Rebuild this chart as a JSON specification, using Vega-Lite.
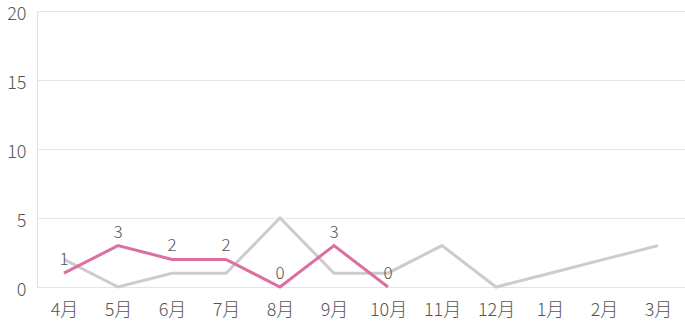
{
  "$schema": "https://vega.github.io/schema/vega-lite/v6.json",
  "width": 648,
  "height": 276,
  "autosize": {"type": "none"},
  "padding": {"left": 37, "top": 11, "right": 0, "bottom": 43},
  "config": {"view": {"stroke": null}, "font": "Noto Sans CJK JP"},
  "data": {"values": [
    {"month": "4月", "series": "前年", "value": 2},
    {"month": "5月", "series": "前年", "value": 0},
    {"month": "6月", "series": "前年", "value": 1},
    {"month": "7月", "series": "前年", "value": 1},
    {"month": "8月", "series": "前年", "value": 5},
    {"month": "9月", "series": "前年", "value": 1},
    {"month": "10月", "series": "前年", "value": 1},
    {"month": "11月", "series": "前年", "value": 3},
    {"month": "12月", "series": "前年", "value": 0},
    {"month": "1月", "series": "前年", "value": 1},
    {"month": "2月", "series": "前年", "value": 2},
    {"month": "3月", "series": "前年", "value": 3},
    {"month": "4月", "series": "今年", "value": 1},
    {"month": "5月", "series": "今年", "value": 3},
    {"month": "6月", "series": "今年", "value": 2},
    {"month": "7月", "series": "今年", "value": 2},
    {"month": "8月", "series": "今年", "value": 0},
    {"month": "9月", "series": "今年", "value": 3},
    {"month": "10月", "series": "今年", "value": 0}
  ]},
  "encoding": {
    "x": {"field": "month", "type": "ordinal", "sort": null,
      "scale": {"type": "point", "padding": 0.5},
      "axis": {"title": null, "labelAngle": 0, "labelFontSize": 18, "labelFontWeight": 300, "labelColor": "#555", "ticks": false, "domain": false, "labelPadding": 14, "grid": false}},
    "y": {"field": "value", "type": "quantitative",
      "scale": {"domain": [0, 20]},
      "axis": {"title": null, "values": [0, 5, 10, 15, 20], "labelFontSize": 18, "labelFontWeight": 300, "labelColor": "#555", "ticks": false, "domain": true, "domainColor": "#e0e0e0", "gridColor": "#e4e4e4", "labelPadding": 11, "labelOffset": 3}}
  },
  "layer": [
    {"mark": {"type": "line", "strokeWidth": 3},
      "encoding": {
        "color": {"field": "series", "type": "nominal", "scale": {"domain": ["前年", "今年"], "range": ["#cccccc", "#dc6ea0"]}, "legend": null},
        "order": {"field": "series", "sort": "descending"}
      }},
    {"transform": [{"filter": "datum.series === '今年'"}],
      "mark": {"type": "text", "dy": -13, "fontSize": 17, "fontWeight": 300, "color": "#555"},
      "encoding": {"text": {"field": "value", "type": "quantitative"}}}
  ]
}
